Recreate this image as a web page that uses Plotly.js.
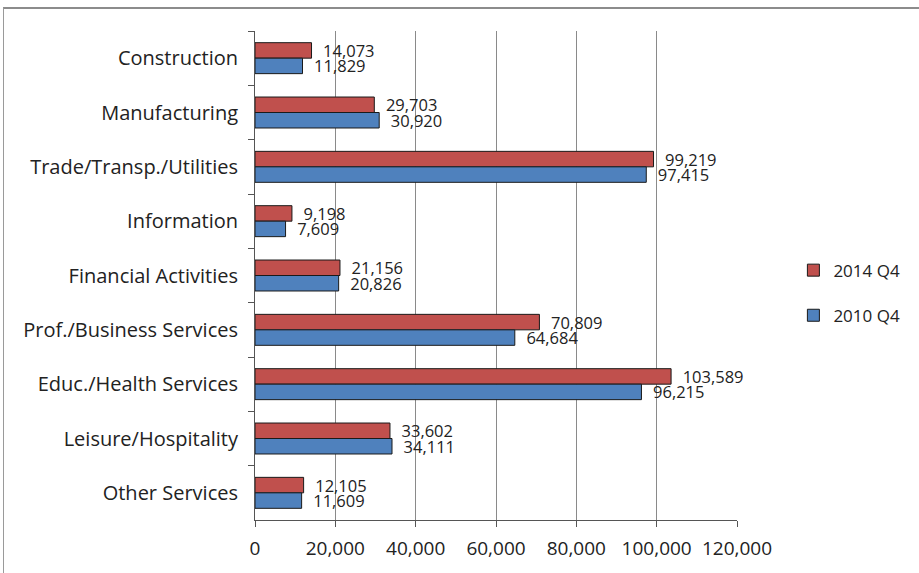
<!DOCTYPE html>
<html><head><meta charset="utf-8">
<script src="https://cdn.plot.ly/plotly-3.0.1.min.js"></script>
<style>
html,body{margin:0;padding:0;background:#fff;}
#frame{position:absolute;left:3px;top:7px;width:930px;height:580px;border-top:2px solid #8c8c8c;border-left:1px solid #9a9a9a;}
#chart{position:absolute;left:0;top:0;width:919px;height:573px;}
</style></head>
<body>
<div id="frame"></div>
<div id="chart"></div>
<script>
var categories = ["Construction","Manufacturing","Trade/Transp./Utilities","Information","Financial Activities","Prof./Business Services","Educ./Health Services","Leisure/Hospitality","Other Services"];
var q4_2014 = [14073, 29703, 99219, 9198, 21156, 70809, 103589, 33602, 12105];
var q4_2010 = [11829, 30920, 97415, 7609, 20826, 64684, 96215, 34111, 11609];
var xTicks = [0, 20000, 40000, 60000, 80000, 100000, 120000];

var font = "'Open Sans', Lato, sans-serif";
var traces = [
  {type:'bar', orientation:'h', name:'2014 Q4', legendgroup:'a', y:categories, x:q4_2014,
   marker:{color:'#C0504D', line:{color:'#1a1a1a', width:1}},
   texttemplate:'  %{x:,d}', textposition:'outside', cliponaxis:false, constraintext:'none',
   textfont:{family:font, size:16.5, color:'#222'}},
  {type:'bar', orientation:'h', name:'2010 Q4', legendgroup:'b', y:categories, x:q4_2010,
   marker:{color:'#4F81BD', line:{color:'#1a1a1a', width:1}},
   texttemplate:'  %{x:,d}', textposition:'outside', cliponaxis:false, constraintext:'none',
   textfont:{family:font, size:16.5, color:'#222'}}
];
var layout = {
  width:919, height:573,
  paper_bgcolor:'rgba(0,0,0,0)', plot_bgcolor:'rgba(0,0,0,0)',
  margin:{l:255, r:182, t:31, b:53, autoexpand:false},
  barmode:'group', bargap:0.43, bargroupgap:0,
  font:{family:font, size:19, color:'#222'},
  showlegend:true,
  legend:{x:1.117, y:0.464, xanchor:'left', yanchor:'middle', traceorder:'grouped',
          font:{family:font, size:17, color:'#222'}, tracegroupgap:20, itemwidth:30},
  xaxis:{range:[0,120000], tickvals:xTicks, tickformat:',d', showgrid:true,
         gridcolor:'#8a8a8a', gridwidth:1, showline:true, linecolor:'#555', linewidth:1,
         ticks:'outside', ticklen:6, tickcolor:'#555', zeroline:false, ticklabelstandoff:5,
         tickfont:{family:font, size:19, color:'#222'}},
  yaxis:{type:'category', autorange:'reversed', showline:true, linecolor:'#555', linewidth:1,
         ticks:'outside', tickson:'boundaries', ticklen:6, tickcolor:'#555',
         showgrid:false, ticklabelstandoff:12,
         tickfont:{family:font, size:20, color:'#222'}}
};
Plotly.newPlot('chart', traces, layout, {displayModeBar:false, staticPlot:true});
</script>
</body></html>
